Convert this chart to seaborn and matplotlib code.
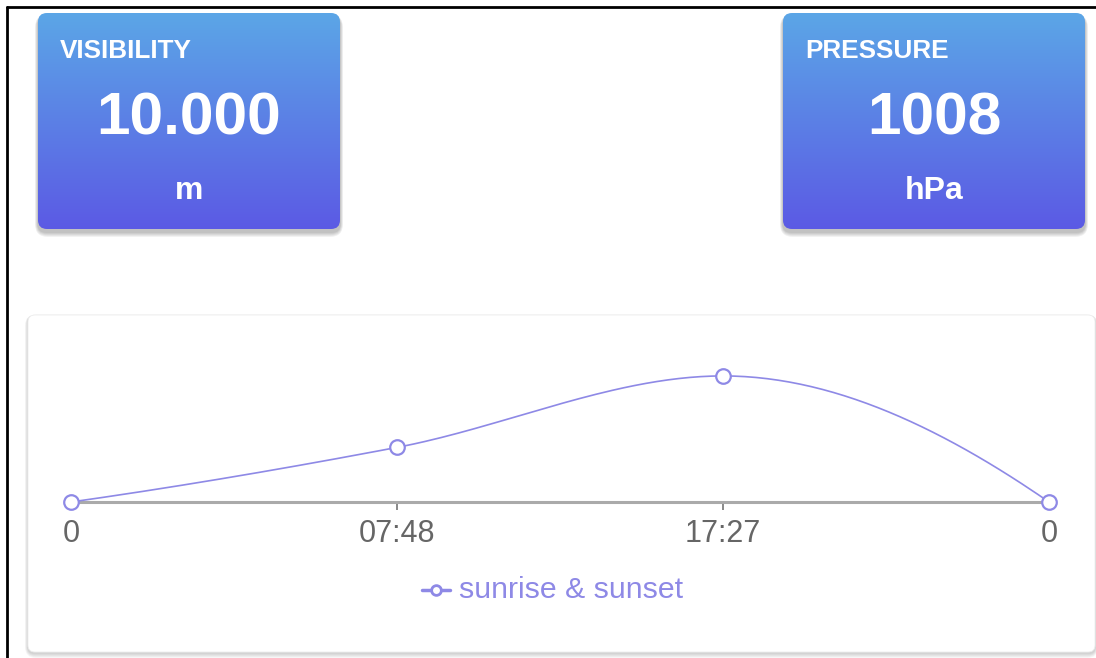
import numpy as np
import pandas as pd
import matplotlib
matplotlib.use("Agg")
import matplotlib.pyplot as plt
import seaborn as sns
from matplotlib.patches import FancyBboxPatch
from matplotlib.lines import Line2D

# ---------------------------------------------------------------------------
# data
# ---------------------------------------------------------------------------
tick_labels = ["0", "07:48", "17:27", "0"]
sun_values = [0, 7.48, 17.27, 0]
series_name = "sunrise & sunset"

card_titles = ["VISIBILITY", "PRESSURE"]
card_values = ["10.000", "1008"]
card_units = ["m", "hPa"]

# colours
LINE_C = "#8e89e6"
TOP_C = np.array([0x5b, 0xa6, 0xe7]) / 255
BOT_C = np.array([0x5c, 0x5a, 0xe4]) / 255

sns.set_theme(style="white")
plt.rcParams["font.family"] = ["Liberation Sans", "DejaVu Sans"]

W, H = 1096, 658
fig = plt.figure(figsize=(W / 100, H / 100), dpi=100)
fig.patch.set_facecolor("white")

# background axes in pixel coordinates
bg = fig.add_axes([0, 0, 1, 1])
bg.set_xlim(0, W)
bg.set_ylim(H, 0)
bg.axis("off")

# black frame (top + left)
bg.add_line(Line2D([7, W], [7, 7], color="black", lw=2))
bg.add_line(Line2D([7, 7], [7, H], color="black", lw=2))


def shadow(x, y, w, h, r, strength=0.06, layers=5):
    for i in range(layers, 0, -1):
        bg.add_patch(FancyBboxPatch((x - i * 0.6, y + 1 - i * 0.3), w + i * 1.2, h + i * 1.3,
                                    boxstyle=f"round,pad=0,rounding_size={r + i}",
                                    fc="black", ec="none", alpha=strength / 1.4, zorder=1))


def card(x, y, w, h, title, value, unit):
    shadow(x, y + 2, w, h, 8, strength=0.07)
    box = FancyBboxPatch((x, y), w, h, boxstyle="round,pad=0,rounding_size=9",
                         fc="none", ec="none", zorder=2)
    bg.add_patch(box)
    grad = np.linspace(0, 1, 256)[:, None]
    img = TOP_C[None, None, :] * (1 - grad[..., None]) + BOT_C[None, None, :] * grad[..., None]
    img = np.repeat(img, 2, axis=1)
    im = bg.imshow(img, extent=(x, x + w, y + h, y), aspect="auto", zorder=2,
                   interpolation="bilinear")
    im.set_clip_path(box)
    cx = x + w / 2
    bg.text(x + 22, y + 38, title, color="white", fontsize=18.8, fontweight="bold",
            ha="left", va="center", zorder=3)
    bg.text(cx, y + 106, value, color="white", fontsize=43.5, fontweight="bold",
            ha="center", va="center", zorder=3)
    bg.text(cx, y + 178, unit, color="white", fontsize=23, fontweight="bold",
            ha="center", va="center", zorder=3)


card(38, 13, 302, 216, card_titles[0], card_values[0], card_units[0])
card(783, 13, 302, 216, card_titles[1], card_values[1], card_units[1])

# chart card
shadow(28, 315, 1067, 337, 6, strength=0.05)
bg.add_patch(FancyBboxPatch((28, 315), 1067, 337, boxstyle="round,pad=0,rounding_size=7",
                            fc="white", ec="#eeeeee", lw=0.6, zorder=2))

# ---------------------------------------------------------------------------
# line chart
# ---------------------------------------------------------------------------
x0, x1 = 71, 1049
y_base = 502
px_per_unit = 7.3
ymax = 20
ax = fig.add_axes([x0 / W, (H - y_base) / H, (x1 - x0) / W, ymax * px_per_unit / H])
ax.set_facecolor("none")
ax.patch.set_alpha(0)

xs = np.arange(len(sun_values), dtype=float)
ys = np.array(sun_values, dtype=float)

# monotone cubic (PCHIP) smoothing between the points
d = np.diff(ys)
m = np.zeros_like(ys)
for i in range(1, len(ys) - 1):
    if d[i - 1] * d[i] > 0:
        m[i] = 2 * d[i - 1] * d[i] / (d[i - 1] + d[i])
m[0] = (3 * d[0] - d[1]) / 2
m[-1] = (3 * d[-1] - d[-2]) / 2
for k in (0, -1):
    dd = d[0] if k == 0 else d[-1]
    if np.sign(m[k]) != np.sign(dd):
        m[k] = 0
    elif abs(m[k]) > 3 * abs(dd):
        m[k] = 3 * dd
sx, sy = [], []
for i in range(len(ys) - 1):
    t = np.linspace(0, 1, 60)
    h00 = 2 * t**3 - 3 * t**2 + 1
    h10 = t**3 - 2 * t**2 + t
    h01 = -2 * t**3 + 3 * t**2
    h11 = t**3 - t**2
    sx.extend(xs[i] + t)
    sy.extend(h00 * ys[i] + h10 * m[i] + h01 * ys[i + 1] + h11 * m[i + 1])
curve = pd.DataFrame({"x": sx, "y": sy})
pts = pd.DataFrame({"x": xs, "y": ys})

sns.lineplot(data=curve, x="x", y="y", ax=ax, color=LINE_C, lw=1.2, sort=False, zorder=3)
sns.scatterplot(data=pts, x="x", y="y", ax=ax, marker="o", s=110, facecolor="white",
                edgecolor=LINE_C, linewidth=1.6, zorder=4, clip_on=False)

ax.set_xlim(0, len(sun_values) - 1)
ax.set_ylim(0, ymax)
ax.set_xticks(xs)
ax.set_xticklabels(tick_labels)
ax.set_yticks([])
ax.set_xlabel("")
ax.set_ylabel("")
for s in ["top", "right", "left"]:
    ax.spines[s].set_visible(False)
ax.spines["bottom"].set_color("#aaaaaa")
ax.spines["bottom"].set_linewidth(2.2)
ax.spines["bottom"].set_zorder(2)
ax.tick_params(axis="x", bottom=True, length=6, width=1.4, color="#888888",
               labelsize=22, labelcolor="#666666", pad=6)

# legend
lx, ly = 436, 590
bg.add_line(Line2D([lx - 14, lx + 14], [ly, ly], color=LINE_C, lw=2.5, zorder=5))
bg.plot([lx], [ly], marker="o", ms=7, mfc="white", mec=LINE_C, mew=2, zorder=6)
bg.text(lx + 23, ly, series_name, color=LINE_C, fontsize=21.8, ha="left", va="center", zorder=6)

fig.savefig("out.png", dpi=100, facecolor="white")
